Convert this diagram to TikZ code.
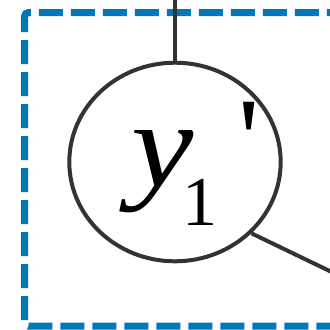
\documentclass[tikz,border=0pt]{standalone}
\usepackage{fontspec}
\setmainfont{Liberation Serif}
\usetikzlibrary{shapes.geometric}
\definecolor{dashblue}{RGB}{0,119,182}
\definecolor{inkgray}{RGB}{51,51,51}
\begin{document}
\begin{tikzpicture}[x=1pt,y=-1pt,
  frame/.style={draw=dashblue,line width=7pt,dash pattern=on 24pt off 8pt,rounded corners=4pt},
  wire/.style={draw=inkgray,line width=4pt},
  nodebox/.style={ellipse,draw=inkgray,line width=4pt,minimum width=211.4pt,minimum height=198.6pt,inner sep=0pt},
  lbl/.style={inner sep=0pt,text=black}]
\useasboundingbox (0,0) rectangle (330,330);
\clip (0,0) rectangle (330,330);
\draw[frame] (24.5,32) -- (24.5,12.5) -- (340,12.5);
\draw[frame,dash phase=24pt] (24.5,32) -- (24.5,326) -- (340,326);
\node[nodebox] (c) at (175,162) {};
\coordinate (t) at (175,-5);
\coordinate (e) at (340,276);
\draw[wire] (t) -- (c.north);
\draw[wire] (c.-43) -- (e);
\node[lbl,font=\fontsize{122}{122}\selectfont\itshape,anchor=base west] (y) at (131,186) {\makebox[50pt][l]{\scalebox{1.15}[1]{y}}};
\node[lbl,font=\fontsize{70}{70}\selectfont,anchor=base] (s) at (199.5,225) {1};
\node[lbl,font=\fontsize{118}{118}\selectfont,anchor=north] (p) at (249.5,102) {\textquotesingle};
\end{tikzpicture}
\end{document}
